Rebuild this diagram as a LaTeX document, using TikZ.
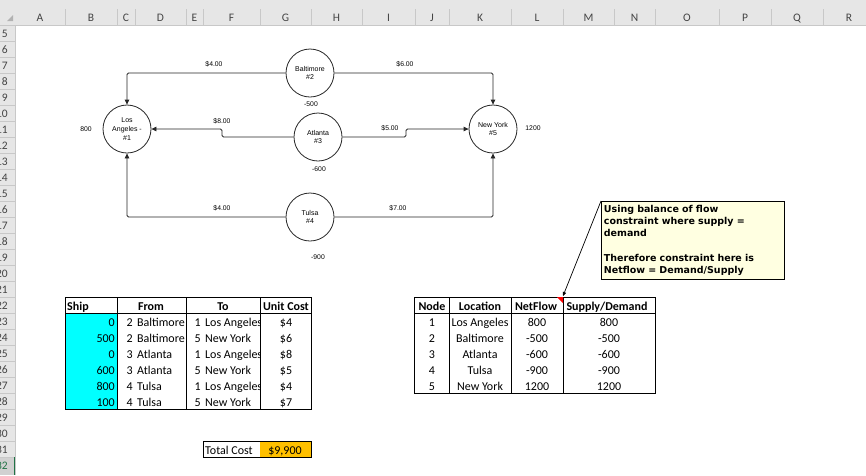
\documentclass[tikz,border=0pt]{standalone}
\usepackage{fontspec}
\setmainfont{Carlito}
\newfontfamily\chartfont{Liberation Sans}
\newfontfamily\notefont{DejaVu Sans}
\usepackage{xcolor}
\usetikzlibrary{arrows.meta}

\definecolor{hdrgray}{HTML}{E6E6E6}
\definecolor{hdrline}{HTML}{C8C8C8}
\definecolor{hdrtext}{HTML}{444444}
\definecolor{selgreen}{HTML}{217346}
\definecolor{shipcyan}{HTML}{00FFFF}
\definecolor{costorange}{HTML}{FFC000}
\definecolor{noteyellow}{HTML}{FFFFE1}

\tikzset{
  city/.style={circle,draw=black!85,line width=0.8pt,minimum size=48pt,inner sep=0pt,align=center,font=\chartfont\fontsize{7}{8.6}\selectfont},
  money/.style={inner sep=0pt,font=\chartfont\fontsize{6.8}{8}\selectfont},
  flow/.style={draw=black!85,line width=0.8pt,rounded corners=1.5pt,-{Triangle[length=5pt,width=4.5pt]}},
  cell/.style={inner sep=0pt,anchor=base,font=\fontsize{12}{13}\selectfont},
  cellw/.style={cell,anchor=base west},
  celle/.style={cell,anchor=base east},
  head/.style={cell,font=\bfseries\fontsize{12}{13}\selectfont},
  headw/.style={head,anchor=base west},
  tabline/.style={draw=black,line width=0.9pt},
  hdrnum/.style={inner sep=0pt,anchor=base east,text=hdrtext,font=\fontsize{11.5}{13}\selectfont},
  hdrlet/.style={inner sep=0pt,anchor=base,text=hdrtext,font=\fontsize{11.5}{13}\selectfont},
  notebox/.style={anchor=north west,draw=black,line width=0.8pt,fill=noteyellow,minimum width=182pt,minimum height=78pt,text width=178pt,align=left,inner xsep=2.5pt,inner ysep=2pt,font=\notefont\bfseries\fontsize{9.5}{12.3}\selectfont}
}

\begin{document}
\begin{tikzpicture}[x=1pt,y=-1pt]
  \useasboundingbox (0,0) rectangle (866,475);
  \fill[white] (0,0) rectangle (866,475);

  % sheet headers
  \fill[hdrgray] (0,0) rectangle (866,25);
  \fill[hdrgray] (0,25) rectangle (15,475);
  \fill[black!18] (0,457) rectangle (15,475);
  \fill[black!30] (13,15) -- (13,21) -- (7,21) -- cycle;
  \draw[hdrline] (0,25) -- (866,25);
  \draw[hdrline] (15,25) -- (15,475);
  \foreach \c/\xl/\xr in {A/15/65,B/65/117,C/117/135,D/135/186,E/186/203,F/203/260,G/260/311,H/311/362,I/362/415,J/415/449,K/449/511,L/511/563,M/563/614,N/614/655,O/655/719,P/719/771,Q/771/823,R/823/875}{
    \draw[hdrline] (\xr,9) -- (\xr,25);
    \node[hdrlet] (col\c) at ({(\xl+\xr)/2},21) {\c};
  }
  \foreach \r in {5,...,31}{
    \draw[hdrline] (0,{41+16*(\r-5)}) -- (15,{41+16*(\r-5)});
    \node[hdrnum] (row\r) at (8,{37+16*(\r-5)}) {\r};
  }
  \node[hdrnum,text=selgreen] (row32) at (8,469) {32};
  \draw[selgreen,line width=1.5pt] (14.5,457) -- (14.5,475);

  % network
  \node[city] (la) at (127,129) {Los\\Angeles -\\\#1};
  \node[city] (balt) at (310,73) {Baltimore\\\#2};
  \node[city] (atl) at (318,137) {Atlanta\\\#3};
  \node[city] (tul) at (310,217) {Tulsa\\\#4};
  \node[city] (ny) at (493,129) {New York\\\#5};

  \draw[flow] (balt) -| (la);
  \draw[flow] (balt) -| (ny);
  \draw[flow] (atl) -- ++(-96,0) |- (la);
  \draw[flow] (atl) -- ++(88,0) |- (ny);
  \draw[flow] (tul) -| (la);
  \draw[flow] (tul) -| (ny);

  \node[money] (m21) at (214,64) {\$4.00};
  \node[money] (m25) at (405,64) {\$6.00};
  \node[money] (m31) at (222,121) {\$8.00};
  \node[money] (m35) at (390,128) {\$5.00};
  \node[money] (m41) at (222,208) {\$4.00};
  \node[money] (m45) at (398,208) {\$7.00};

  \node[money] (s1) at (86,129) {800};
  \node[money] (s2) at (311,104) {-500};
  \node[money] (s3) at (319,169) {-600};
  \node[money] (s4) at (318,257) {-900};
  \node[money] (s5) at (533,128) {1200};

  % shipping table
  \fill[shipcyan] (65,313) rectangle (117,409);
  \draw[tabline] (65,297) rectangle (311,409);
  \draw[tabline] (65,313) -- (311,313);
  \draw[tabline] (117,297) -- (117,409);
  \draw[tabline] (186,297) -- (186,409);
  \draw[tabline] (260,297) -- (260,409);

  \node[headw] (hship) at (67,310) {Ship};
  \node[head] (hfrom) at (151,310) {From};
  \node[head] (hto) at (223,310) {To};
  \node[head] (hcost) at (286,310) {Unit Cost};

  \node[celle] (ship1) at (115,326) {0};
  \node[celle] (ship2) at (115,342) {500};
  \node[celle] (ship3) at (115,358) {0};
  \node[celle] (ship4) at (115,374) {600};
  \node[celle] (ship5) at (115,390) {800};
  \node[celle] (ship6) at (115,406) {100};

  \node[celle] (fromn1) at (133,326) {2};
  \node[celle] (fromn2) at (133,342) {2};
  \node[celle] (fromn3) at (133,358) {3};
  \node[celle] (fromn4) at (133,374) {3};
  \node[celle] (fromn5) at (133,390) {4};
  \node[celle] (fromn6) at (133,406) {4};
  \node[cellw] (from1) at (137,326) {Baltimore};
  \node[cellw] (from2) at (137,342) {Baltimore};
  \node[cellw] (from3) at (137,358) {Atlanta};
  \node[cellw] (from4) at (137,374) {Atlanta};
  \node[cellw] (from5) at (137,390) {Tulsa};
  \node[cellw] (from6) at (137,406) {Tulsa};

  \node[celle] (ton1) at (201,326) {1};
  \node[celle] (ton2) at (201,342) {5};
  \node[celle] (ton3) at (201,358) {1};
  \node[celle] (ton4) at (201,374) {5};
  \node[celle] (ton5) at (201,390) {1};
  \node[celle] (ton6) at (201,406) {5};
  \begin{scope}
    \clip (203,313) rectangle (259.5,409);
    \node[cellw] (to1) at (205,326) {Los Angeles};
    \node[cellw] (to2) at (205,342) {New York};
    \node[cellw] (to3) at (205,358) {Los Angeles};
    \node[cellw] (to4) at (205,374) {New York};
    \node[cellw] (to5) at (205,390) {Los Angeles};
    \node[cellw] (to6) at (205,406) {New York};
  \end{scope}

  \node[cell] (cost1) at (286,326) {\$4};
  \node[cell] (cost2) at (286,342) {\$6};
  \node[cell] (cost3) at (286,358) {\$8};
  \node[cell] (cost4) at (286,374) {\$5};
  \node[cell] (cost5) at (286,390) {\$4};
  \node[cell] (cost6) at (286,406) {\$7};

  % total
  \fill[costorange] (260,441) rectangle (311,457);
  \draw[tabline] (203,441) rectangle (311,457);
  \node[cellw] (tcost) at (205,454) {Total Cost};
  \node[cell] (tval) at (285,454) {\$9,900};

  % balance table
  \draw[tabline] (414,297) rectangle (655,393);
  \draw[tabline] (414,313) -- (655,313);
  \draw[tabline] (449,297) -- (449,393);
  \draw[tabline] (511,297) -- (511,393);
  \draw[tabline] (563,297) -- (563,393);

  \node[head] (hnode) at (432,310) {Node};
  \node[head] (hloc) at (480,310) {Location};
  \node[head] (hnet) at (536,310) {NetFlow};
  \node[head] (hsd) at (607,310) {Supply/Demand};

  \node[cell] (node1) at (432,326) {1};
  \node[cell] (node2) at (432,342) {2};
  \node[cell] (node3) at (432,358) {3};
  \node[cell] (node4) at (432,374) {4};
  \node[cell] (node5) at (432,390) {5};
  \node[cell] (loc1) at (480,326) {Los Angeles};
  \node[cell] (loc2) at (480,342) {Baltimore};
  \node[cell] (loc3) at (480,358) {Atlanta};
  \node[cell] (loc4) at (480,374) {Tulsa};
  \node[cell] (loc5) at (480,390) {New York};
  \node[cell] (net1) at (537,326) {800};
  \node[cell] (net2) at (537,342) {-500};
  \node[cell] (net3) at (537,358) {-600};
  \node[cell] (net4) at (537,374) {-900};
  \node[cell] (net5) at (537,390) {1200};
  \node[cell] (sd1) at (609,326) {800};
  \node[cell] (sd2) at (609,342) {-500};
  \node[cell] (sd3) at (609,358) {-600};
  \node[cell] (sd4) at (609,374) {-900};
  \node[cell] (sd5) at (609,390) {1200};

  % comment
  \fill[red] (557,297) -- (563,297) -- (563,303) -- cycle;
  \node[notebox] (note) at (601,201) {Using balance of flow\\constraint where supply =\\demand\\[12.3pt]Therefore constraint here is\\Netflow = Demand/Supply};
  \coordinate (flag) at (563,296);
  \draw[black,line width=0.7pt,-{Triangle[length=4pt,width=3.5pt]}] (note.north west) -- (flag);
\end{tikzpicture}
\end{document}
